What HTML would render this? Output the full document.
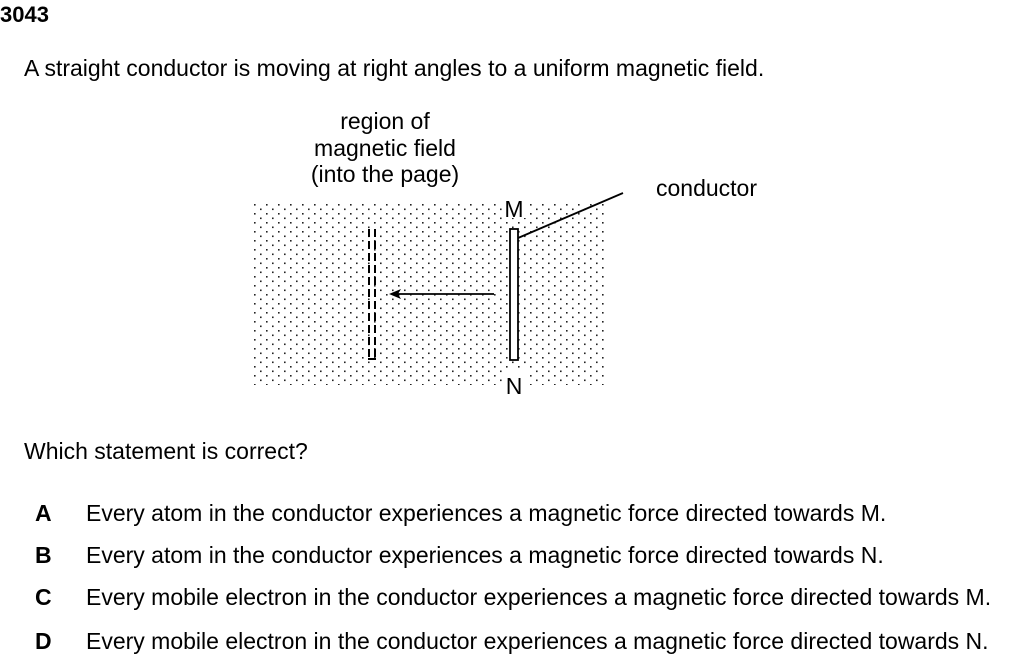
<!DOCTYPE html>
<html><head><style>
body{margin:0;width:1015px;height:666px;background:#fff;font-family:"Liberation Sans",Arial,sans-serif;color:#000;position:relative;overflow:hidden}
.t{position:absolute;font-size:23px;white-space:nowrap;line-height:1}
</style></head><body>
<div class="t" style="left:0;top:4px;font-weight:bold;font-size:22px">3043</div>
<div class="t" style="left:24px;top:57px">A straight conductor is moving at right angles to a uniform magnetic field.</div>
<div class="t" style="left:285px;top:108px;width:200px;text-align:center;line-height:26.5px">region of<br>magnetic field<br>(into the page)</div>
<div class="t" style="left:656px;top:177px">conductor</div>
<svg style="position:absolute;left:0;top:0" width="1015" height="666">
<defs><pattern id="d" width="12" height="9" patternUnits="userSpaceOnUse" x="252" y="203">
<rect x="2" y="1" width="1.6" height="1.6" fill="#222"/><rect x="8" y="5.5" width="1.6" height="1.6" fill="#222"/></pattern></defs>
<rect x="252" y="203" width="356" height="182" fill="url(#d)"/>
<rect x="502" y="196" width="24" height="22" fill="#fff"/>
<rect x="502" y="370" width="24" height="24" fill="#fff"/>
<text x="514" y="217" font-size="23" text-anchor="middle" font-family="Liberation Sans">M</text>
<text x="514" y="394" font-size="23" text-anchor="middle" font-family="Liberation Sans">N</text>
<rect x="510" y="229" width="8" height="131" fill="#fff" stroke="#000" stroke-width="1.8"/>
<line x1="369" y1="229" x2="369" y2="360" stroke="#000" stroke-width="2" stroke-dasharray="8,4"/>
<line x1="375" y1="229" x2="375" y2="360" stroke="#000" stroke-width="2" stroke-dasharray="8,4"/>
<line x1="368" y1="359" x2="376" y2="359" stroke="#000" stroke-width="2"/>
<line x1="494" y1="294" x2="395" y2="294" stroke="#000" stroke-width="1.8"/>
<polygon points="389,294 401,289 398,294 401,299" fill="#000"/>
<line x1="518" y1="238" x2="623" y2="193" stroke="#000" stroke-width="1.8"/>
</svg>
<div class="t" style="left:24px;top:440px">Which statement is correct?</div>
<div class="t" style="left:35px;top:502px;font-weight:bold">A</div><div class="t" style="left:86px;top:502px">Every atom in the conductor experiences a magnetic force directed towards M.</div>
<div class="t" style="left:35px;top:544px;font-weight:bold">B</div><div class="t" style="left:86px;top:544px">Every atom in the conductor experiences a magnetic force directed towards N.</div>
<div class="t" style="left:35px;top:586px;font-weight:bold">C</div><div class="t" style="left:86px;top:586px">Every mobile electron in the conductor experiences a magnetic force directed towards M.</div>
<div class="t" style="left:35px;top:630px;font-weight:bold">D</div><div class="t" style="left:86px;top:630px">Every mobile electron in the conductor experiences a magnetic force directed towards N.</div>
</body></html>
